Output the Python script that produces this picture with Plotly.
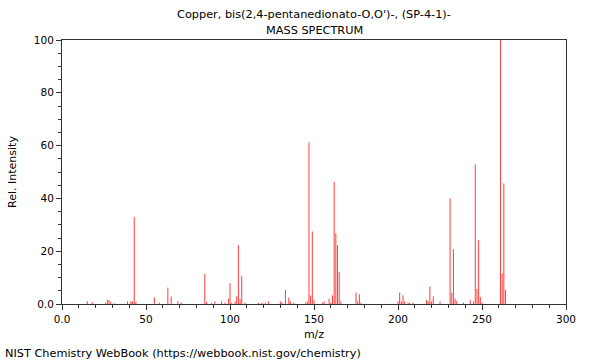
import plotly.graph_objects as go

mz = [15, 18, 26, 27, 28, 29, 31, 39, 41, 42, 43, 44, 55, 58, 63, 65, 69, 71,
      85, 86, 89, 91, 95, 97, 99, 100, 101, 103, 104, 105, 106, 107, 109,
      117, 119, 121, 123, 130, 131, 133, 135, 136, 138, 145, 146, 147, 148,
      149, 150, 155, 156, 159, 160, 161, 162, 163, 164, 165, 166, 175, 176,
      177, 178, 200, 201, 202, 203, 204, 206, 207, 209, 217, 218, 219, 220,
      221, 225, 231, 232, 233, 234, 235, 239, 243, 245, 246, 247, 248, 249,
      250, 261, 262, 263, 264]
intensity = [1.1, 0.8, 0.5, 1.6, 1.5, 0.8, 0.3, 1.0, 1.0, 1.0, 33.0, 0.8, 2.5,
             0.5, 6.2, 2.8, 1.0, 0.5, 11.4, 0.8, 0.5, 1.0, 1.0, 0.5, 2.1, 7.9,
             0.5, 1.0, 2.9, 22.3, 1.9, 10.6, 0.5, 0.4, 0.5, 0.5, 1.0, 1.0, 0.5,
             5.3, 2.4, 1.0, 0.5, 0.5, 1.0, 61.2, 3.2, 27.5, 1.4, 0.5, 1.0, 2.0,
             0.5, 3.3, 46.3, 26.8, 22.3, 12.2, 1.0, 4.3, 1.0, 3.7, 0.5, 1.0,
             4.3, 1.0, 3.3, 1.0, 0.5, 0.5, 0.5, 1.5, 1.0, 6.6, 1.0, 2.9, 1.0,
             40.0, 4.3, 20.8, 2.1, 1.2, 0.5, 1.5, 1.0, 52.9, 5.7, 24.2, 2.7,
             0.5, 100.0, 11.6, 45.7, 5.3]

x_ticks = [0, 50, 100, 150, 200, 250, 300]
x_ticklabels = ["0.0", "50", "100", "150", "200", "250", "300"]
y_ticks = [0, 20, 40, 60, 80, 100]
y_ticklabels = ["0.0", "20", "40", "60", "80", "100"]

title_line1 = "Copper, bis(2,4-pentanedionato-O,O')-, (SP-4-1)-"
title_line2 = "MASS SPECTRUM"
footer = "NIST Chemistry WebBook (https://webbook.nist.gov/chemistry)"

xs, ys = [], []
for m, v in zip(mz, intensity):
    xs += [m, m, None]
    ys += [0, v, None]

FONT = "DejaVu Sans"
L, R, T, B = 62, 34, 40, 56
W, H = 600, 360
pw, ph = W - L - R, H - T - B

fig = go.Figure()
fig.add_trace(go.Scatter(x=xs, y=ys, mode="lines",
                         line=dict(color="rgba(255,40,40,0.9)", width=1),
                         hoverinfo="skip", showlegend=False))

fig.update_layout(
    width=W, height=H,
    margin=dict(l=L, r=R, t=T, b=B, autoexpand=False),
    paper_bgcolor="white", plot_bgcolor="white",
    font=dict(family=FONT, size=11, color="black"),
    showlegend=False,
)
fig.update_xaxes(
    range=[0, 300], tickvals=x_ticks, ticktext=x_ticklabels,
    ticks="outside", ticklen=5, tickcolor="#333", showgrid=False,
    zeroline=False, showline=True, linecolor="#333", linewidth=1, mirror=True,
    minor=dict(dtick=10, tick0=0, ticks="outside", ticklen=3, tickcolor="#333"),
    title=dict(text="m/z", font=dict(size=11), standoff=6),
    tickfont=dict(size=10.5),
)
fig.update_yaxes(
    range=[0, 100], tickvals=y_ticks, ticktext=y_ticklabels,
    ticks="outside", ticklen=5, tickcolor="#333", showgrid=False,
    zeroline=False, showline=True, linecolor="#333", linewidth=1, mirror=True,
    minor=dict(dtick=5, tick0=0, ticks="outside", ticklen=3, tickcolor="#333"),
    title=dict(text="Rel. Intensity", font=dict(size=11), standoff=15),
    tickfont=dict(size=10.5),
)


def px_x(x):
    return (x - L) / pw


def px_y(y):
    return (H - B - y) / ph


fig.add_annotation(text=title_line1, x=0.5, xref="paper", y=px_y(14), yref="paper",
                   yanchor="middle", showarrow=False, font=dict(size=11.3))
fig.add_annotation(text=title_line2, x=0.5, xref="paper", y=px_y(30), yref="paper",
                   yanchor="middle", showarrow=False, font=dict(size=11.3))
fig.add_annotation(text=footer, x=px_x(3), xref="paper", y=px_y(353), yref="paper",
                   yanchor="middle", xanchor="left", showarrow=False,
                   font=dict(size=11.3))

fig.write_html("out.html", config={"displayModeBar": False},
               post_script="document.body.style.margin='0';document.body.style.overflow='hidden';")
